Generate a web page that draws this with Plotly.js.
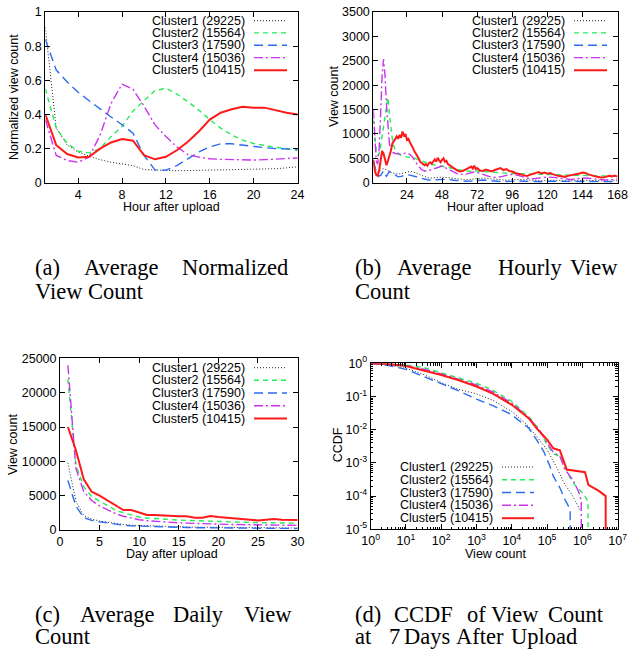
<!DOCTYPE html>
<html>
<head>
<meta charset="utf-8">
<script src="https://cdn.plot.ly/plotly-3.0.1.min.js"></script>
<style>html,body{margin:0;padding:0;background:#fff;}#chart{width:628px;height:649px;}</style>
</head>
<body>
<div id="chart"></div>
<script>
// ---------------- DATA ----------------
const clusterNames = ["Cluster1 (29225)", "Cluster2 (15564)", "Cluster3 (17590)", "Cluster4 (15036)", "Cluster5 (10415)"];

// (a) Average normalized view count, hours 1..24
const hoursA = [1,2,3,4,5,6,7,8,9,10,11,12,13,14,15,16,17,18,19,20,21,22,23,24];
const normC1 = [0.91,0.32,0.22,0.18,0.155,0.135,0.12,0.11,0.10,0.077,0.073,0.072,0.07,0.07,0.072,0.074,0.075,0.076,0.077,0.078,0.08,0.082,0.087,0.093];
const normC2 = [0.55,0.32,0.23,0.185,0.175,0.20,0.27,0.33,0.42,0.48,0.54,0.553,0.52,0.475,0.426,0.37,0.32,0.28,0.25,0.23,0.217,0.207,0.20,0.19];
const normC3 = [0.84,0.66,0.59,0.53,0.48,0.43,0.385,0.34,0.29,0.16,0.075,0.073,0.10,0.14,0.18,0.21,0.228,0.228,0.22,0.21,0.205,0.20,0.197,0.195];
const normC4 = [0.37,0.16,0.13,0.12,0.15,0.28,0.465,0.578,0.547,0.45,0.34,0.27,0.21,0.165,0.15,0.14,0.137,0.135,0.133,0.133,0.135,0.138,0.142,0.145];
const normC5 = [0.40,0.22,0.168,0.148,0.152,0.20,0.236,0.256,0.246,0.162,0.137,0.152,0.19,0.24,0.30,0.37,0.41,0.43,0.445,0.44,0.44,0.425,0.41,0.40];

// (b) Average hourly view count
const hourB1 = [1,2,3,4,5,6,7,8,9,10,12,14,16,18,20,22,24,26,28,30,32,34,36,38,40,42,44,46,48,50,52,56,60,64,68,72,76,80,84,88,92,96,100,104,108,112,116,120,124,128,132,136,140,144,148,152,156,160,164,168];
const viewB1 = [450,320,250,220,230,260,280,290,280,260,230,200,180,175,185,205,220,230,225,200,170,140,120,105,95,95,100,110,115,110,100,85,70,62,70,85,95,85,70,58,52,60,70,65,55,45,42,50,55,48,40,36,40,50,46,38,32,30,35,40];
const hourB2 = [1,2,3,4,5,6,7,8,9,10,11,12,13,14,15,16,18,20,22,24,26,28,30,32,36,40,44,48,52,56,60,64,68,72,76,80,84,88,92,96,100,104,108,112,116,120,124,128,132,136,140,144,148,152,156,160,164,168];
const viewB2 = [1300,900,650,550,600,750,950,1150,1300,1600,1750,1400,1100,900,750,680,600,560,540,530,520,510,500,470,420,380,360,340,310,290,260,240,230,240,230,210,200,200,195,190,185,180,175,175,170,170,165,160,160,155,150,150,145,140,135,135,130,130];
const hourB3 = [1,2,3,4,5,6,7,8,9,10,11,12,13,14,16,18,20,22,24,26,28,30,32,34,36,38,40,44,48,52,56,60,64,68,72,76,80,84,88,92,96,100,104,108,112,116,120,124,128,132,136,140,144,148,152,156,160,164,168];
const viewB3 = [450,300,200,160,140,150,200,240,170,130,180,230,210,190,150,120,130,150,160,155,140,120,100,80,70,60,55,60,80,70,50,35,30,35,50,55,45,30,25,25,35,35,30,25,20,20,30,30,25,20,18,20,28,25,20,15,15,18,20];
const hourB4 = [1,2,3,4,5,6,7,8,9,10,11,12,13,14,15,16,18,20,22,24,26,28,30,32,34,36,38,40,42,44,46,48,50,52,54,56,58,60,62,64,66,68,70,72,74,76,78,80,84,88,92,96,100,104,108,112,116,120,124,128,132,136,140,144,148,152,156,160,164,168];
const viewB4 = [1500,800,450,380,700,1400,2200,2530,2200,1600,1100,800,650,600,620,600,590,580,600,610,580,520,420,330,270,240,240,260,280,300,330,340,310,280,240,210,190,170,165,170,190,210,220,210,190,170,150,130,110,120,150,170,150,110,80,85,100,115,110,90,75,65,75,95,90,75,60,55,60,75];
const hourB5 = [1,2,3,4,5,6,7,8,9,10,11,12,13,14,15,16,17,18,19,20,21,22,23,24,25,26,27,28,29,30,31,32,33,34,35,36,37,38,39,40,41,42,43,44,45,46,47,48,49,50,51,52,54,56,58,60,62,64,66,68,69,70,71,72,74,76,78,80,82,84,86,88,90,92,94,96,98,100,102,104,106,108,110,112,114,116,118,120,122,124,126,128,130,132,134,136,138,140,142,144,146,148,150,152,154,156,158,160,162,164,166,168];
const viewB5 = [470,250,160,140,250,450,650,600,450,360,450,530,650,800,850,880,950,900,980,920,1050,950,1000,880,900,830,780,720,650,600,560,500,430,400,370,360,380,350,400,420,390,450,480,430,510,460,420,470,500,430,450,380,340,290,260,230,240,270,300,330,290,350,280,300,250,240,270,250,230,260,280,300,260,280,240,230,200,190,170,150,140,160,180,200,220,190,210,185,200,170,150,135,130,120,140,150,170,180,190,210,200,170,150,130,120,110,105,120,140,130,145,125];

// (c) Average daily view count, days 1..30
const daysC = [1,2,3,4,5,6,7,8,9,10,11,12,13,14,15,16,17,18,19,20,21,22,23,24,25,26,27,28,29,30];
const dayC1 = [9800,4200,2100,1600,1300,1100,950,800,700,650,600,560,520,490,460,440,420,400,390,380,370,360,350,340,330,320,310,305,300,295];
const dayC2 = [22000,9500,6300,4900,4200,3500,2900,2500,2200,1900,1750,1650,1550,1500,1450,1400,1350,1300,1250,1200,1180,1150,1120,1100,1080,1060,1040,1020,1000,990];
const dayC3 = [7200,3500,1800,1400,1200,1000,850,700,600,550,500,460,430,400,380,360,340,320,310,300,290,280,270,260,250,245,240,235,230,225];
const dayC4 = [24000,9000,5600,4300,3500,2900,2400,2000,1700,1500,1350,1250,1150,1100,1050,1000,950,900,900,850,820,800,780,760,740,720,700,690,680,670];
const dayC5 = [15000,11650,7380,5580,5000,4300,3600,2910,2900,2600,2200,2200,2100,2050,2000,2000,1800,1800,2050,1900,1800,1650,1600,1500,1400,1500,1600,1500,1450,1450];

// (d) CCDF of view count at 7 days after upload
const ccdfX1 = [1,3,10,30,100,300,1000,3000,1e4,3e4,1e5,1.5e5,2e5,3e5,5e5,8e5,9e5];
const ccdfY1 = [1,0.91,0.71,0.47,0.263,0.166,0.12,0.0759,0.0355,0.0126,0.00251,0.00112,0.000631,0.000251,0.000112,4.5e-5,3.5e-5];
const ccdfX2 = [1,3,10,30,100,300,1000,3000,1e4,3e4,6e4,1e5,1.5e5,2.3e5,3.2e5,4.5e5,7e5,1e6,1.45e6,1.45e6];
const ccdfY2 = [1,0.955,0.891,0.759,0.525,0.38,0.251,0.151,0.0708,0.0251,0.01,0.00355,0.0019,0.00158,0.000794,0.000355,0.000178,0.000126,7.1e-5,1e-6];
const ccdfX3 = [1,3,10,30,100,300,1000,3000,1e4,3e4,5e4,8e4,1.2e5,1.5e5,2.3e5,3.2e5,4.5e5,4.5e5];
const ccdfY3 = [1,0.871,0.661,0.417,0.251,0.151,0.0832,0.0525,0.0282,0.0112,0.005,0.00224,0.000794,0.000398,0.000178,7.9e-5,4.0e-5,1e-6];
const ccdfX4 = [1,3,10,30,100,300,1000,3000,1e4,3e4,6e4,1e5,1.5e5,2.3e5,3.2e5,4.5e5,6e5,8e5,9.3e5,9.3e5];
const ccdfY4 = [1,0.955,0.851,0.676,0.479,0.339,0.224,0.135,0.0631,0.0234,0.01,0.004,0.00209,0.00158,0.000631,0.000398,0.000251,0.000126,7.1e-5,1e-6];
const ccdfX5 = [1,3,10,30,100,300,1000,3000,1e4,3e4,5e4,1e5,1.5e5,2.3e5,3.6e5,1.19e6,1.47e6,3e6,4.57e6,4.57e6];
const ccdfY5 = [1,0.955,0.832,0.631,0.447,0.316,0.2,0.12,0.0562,0.0224,0.0112,0.005,0.00275,0.0024,0.000631,0.000525,0.000219,0.000141,0.0001,1e-6];

// tick labels
const ticksA = [0,0.2,0.4,0.6,0.8,1];
const ticksAx = [4,8,12,16,20,24];
const ticksBx = [24,48,72,96,120,144,168];
const logXvals = [1,10,100,1e3,1e4,1e5,1e6,1e7];
const logXtext = ["10<sup>0</sup>","10<sup>1</sup>","10<sup>2</sup>","10<sup>3</sup>","10<sup>4</sup>","10<sup>5</sup>","10<sup>6</sup>","10<sup>7</sup>"];
const logYvals = [1e-5,1e-4,1e-3,1e-2,1e-1,1];
const logYtext = ["10<sup>-5</sup>","10<sup>-4</sup>","10<sup>-3</sup>","10<sup>-2</sup>","10<sup>-1</sup>","10<sup>0</sup>"];

// ---------------- STYLE ----------------
const W = 628, H = 649;
const P = v => v / W, Q = v => 1 - v / H;
const SANS = "Liberation Sans, Arial, sans-serif";
const SERIF = "Liberation Serif, Times New Roman, serif";
const styles = [
  {color:"#222222", width:1, dash:"1px,2px"},
  {color:"#22ee55", width:1.4, dash:"5px,4px"},
  {color:"#2a6cf0", width:1.4, dash:"9px,5px"},
  {color:"#cc33ee", width:1.4, dash:"9px,3px,2px,3px"},
  {color:"#ff1a1a", width:2, dash:"solid"}
];

const panels = [
  {s:"",  xs:[hoursA,hoursA,hoursA,hoursA,hoursA], ys:[normC1,normC2,normC3,normC4,normC5]},
  {s:"2", xs:[hourB1,hourB2,hourB3,hourB4,hourB5], ys:[viewB1,viewB2,viewB3,viewB4,viewB5]},
  {s:"3", xs:[daysC,daysC,daysC,daysC,daysC], ys:[dayC1,dayC2,dayC3,dayC4,dayC5]},
  {s:"4", xs:[ccdfX1,ccdfX2,ccdfX3,ccdfX4,ccdfX5], ys:[ccdfY1,ccdfY2,ccdfY3,ccdfY4,ccdfY5]}
];

const traces = [];
panels.forEach(p => {
  for (let i = 0; i < 5; i++) {
    traces.push({
      x: p.xs[i], y: p.ys[i], name: clusterNames[i],
      xaxis: "x" + p.s, yaxis: "y" + p.s, type: "scatter", mode: "lines",
      line: {color: styles[i].color, width: styles[i].width, dash: styles[i].dash},
      hoverinfo: "skip", showlegend: false
    });
  }
});

const baseAxis = {
  showline: true, linecolor: "#000", linewidth: 1, mirror: "ticks",
  ticks: "inside", ticklen: 5, tickwidth: 1, tickcolor: "#000",
  showgrid: false, zeroline: false, fixedrange: true, ticklabeloverflow: "allow",
  tickfont: {family: SANS, size: 12.5, color: "#000"},
  exponentformat: "none", separatethousands: false
};
const ax = o => Object.assign({}, baseAxis, o);

// minor ticks for log axes
const minorX = [], minorY = [];
for (let e = 0; e < 7; e++) for (let k = 2; k <= 9; k++) minorX.push(k * Math.pow(10, e));
for (let e = -5; e < 0; e++) for (let k = 2; k <= 9; k++) minorY.push(k * Math.pow(10, e));
const minorStyle = (vals) => ({tickmode: "array", tickvals: vals, ticks: "inside", ticklen: 2.5, tickcolor: "#000", tickwidth: 1, showgrid: false});

const layout = {
  width: W, height: H, margin: {l:0, r:0, t:0, b:0},
  paper_bgcolor: "#fff", plot_bgcolor: "#fff", showlegend: false,
  xaxis:  ax({domain:[P(45.3), P(297.7)], range:[1,24.02], tickmode:"array", tickvals:ticksAx, anchor:"y"}),
  yaxis:  ax({domain:[Q(182.7), Q(12)], range:[0,1.0005], tickmode:"array", tickvals:ticksA, anchor:"x"}),
  xaxis2: ax({domain:[P(373.3), P(617.7)], range:[1,168.1], tickmode:"array", tickvals:ticksBx, anchor:"y2"}),
  yaxis2: ax({domain:[Q(182.7), Q(12)], range:[0,3502], dtick:500, tick0:0, tickformat:"d", anchor:"x2"}),
  xaxis3: ax({domain:[P(60), P(297.7)], range:[0,30.02], dtick:5, tick0:0, anchor:"y3"}),
  yaxis3: ax({domain:[Q(530), Q(358.3)], range:[0,25010], dtick:5000, tick0:0, tickformat:"d", anchor:"x3"}),
  xaxis4: ax({domain:[P(370.7), P(617.7)], type:"log", range:[0,7.001], tickmode:"array", tickvals:logXvals, ticktext:logXtext, anchor:"y4", minor:minorStyle(minorX)}),
  yaxis4: ax({domain:[Q(529.3), Q(363.3)], type:"log", range:[-5,0.001], tickmode:"array", tickvals:logYvals, ticktext:logYtext, anchor:"x4", minor:minorStyle(minorY)}),
  annotations: [], shapes: []
};

const txt = (text, x, y, o) => Object.assign({
  text, x: P(x), y: Q(y), xref: "paper", yref: "paper", showarrow: false,
  xanchor: "center", yanchor: "middle", borderpad: 0,
  font: {family: SANS, size: 12.5, color: "#000"}
}, o || {});

// axis titles
layout.annotations.push(
  txt("Hour after upload", 171.7, 206.7),
  txt("Normalized view count", 14, 97, {textangle: -90}),
  txt("Hour after upload", 495, 206.7),
  txt("View count", 334, 97, {textangle: -90}),
  txt("Day after upload", 172, 554),
  txt("View count", 13, 445, {textangle: -90}),
  txt("View count", 495, 554),
  txt("CCDF", 338.3, 445, {textangle: -90})
);

// legends (text right-aligned, line sample on the right)
const legends = [
  {right:246, x0:254, x1:287, rows:[20.7,32.9,45.2,57.6,70.2]},
  {right:566, x0:574, x1:607, rows:[20.7,32.9,45.2,57.6,70.2]},
  {right:246, x0:254, x1:287, rows:[367.7,380.3,393,405.7,418.5]},
  {right:494, x0:502, x1:534, rows:[467,479.8,492.5,505.2,518.2]}
];
legends.forEach(L => {
  for (let i = 0; i < 5; i++) {
    layout.annotations.push(txt(clusterNames[i], L.right, L.rows[i], {xanchor: "right"}));
    layout.shapes.push({type:"line", xref:"paper", yref:"paper",
      x0:P(L.x0), x1:P(L.x1), y0:Q(L.rows[i]), y1:Q(L.rows[i]),
      line:{color:styles[i].color, width:styles[i].width, dash:styles[i].dash}});
  }
});

// captions (justified words placed individually)
const captionWords = [
  ["(a)",34,268],["Average",83,268],["Normalized",181,268],["View Count",34,292],
  ["(b)",354,268],["Average",396,268],["Hourly",497,268],["View",569,268],["Count",354,292],
  ["(c)",34,614],["Average",79,614],["Daily",172,614],["View",243,614],["Count",34,636],
  ["(d)",354,614],["CCDF",393,614],["of",466,614],["View",490,614],["Count",547,614],
  ["at",354,636],["7",388,636],["Days",403,636],["After",455,636],["Upload",510,636]
];
captionWords.forEach(w => layout.annotations.push(
  txt(w[0], w[1], w[2], {xanchor: "left", font: {family: SERIF, size: 22.5, color: "#000"}})
));

Plotly.newPlot("chart", traces, layout, {staticPlot: true, displayModeBar: false});
</script>
</body>
</html>
